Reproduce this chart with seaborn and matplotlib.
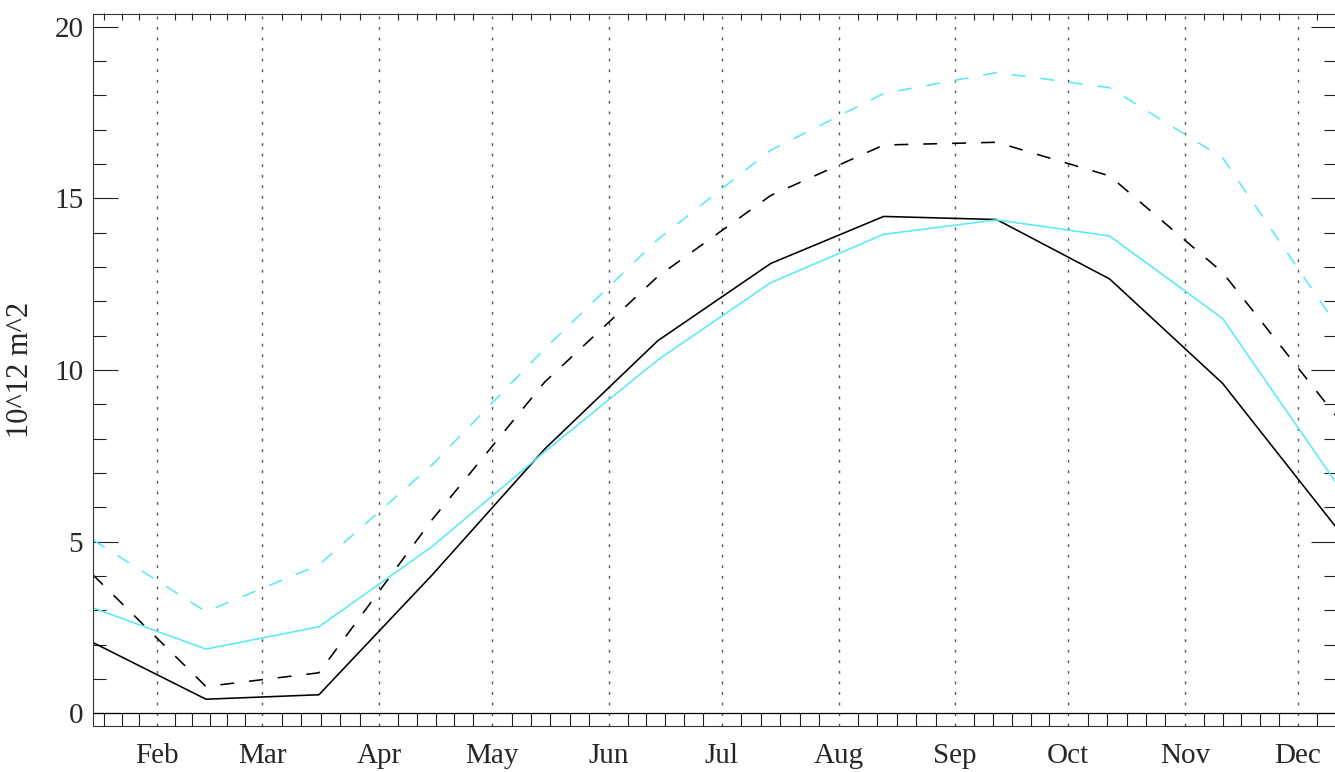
import matplotlib
matplotlib.use("Agg")
import matplotlib.pyplot as plt
import matplotlib.ticker as ticker
import seaborn as sns
import pandas as pd

# data: mid-month points (day of year), values in 10^12 m^2
days = [15, 45, 75, 105, 135, 165, 195, 225, 255, 285, 315, 345]
black_solid = [2.06, 0.41, 0.54, 4.02, 7.70, 10.85, 13.10, 14.47, 14.38, 12.65, 9.61, 5.44]
black_dashed = [4.03, 0.78, 1.18, 5.63, 9.65, 12.72, 15.08, 16.55, 16.63, 15.65, 12.84, 8.68]
cyan_solid = [3.07, 1.87, 2.52, 4.85, 7.62, 10.29, 12.54, 13.95, 14.37, 13.90, 11.50, 6.74]
cyan_dashed = [5.05, 2.96, 4.32, 7.23, 10.62, 13.80, 16.40, 18.05, 18.66, 18.22, 16.18, 11.35]

month_labels = ["Feb", "Mar", "Apr", "May", "Jun", "Jul", "Aug", "Sep", "Oct", "Nov", "Dec"]
month_starts = [32, 60, 91, 121, 152, 182, 213, 244, 274, 305, 335]

df = pd.DataFrame({
    "day": days * 4,
    "val": black_solid + black_dashed + cyan_solid + cyan_dashed,
    "series": ["bs"] * 12 + ["bd"] * 12 + ["cs"] * 12 + ["cd"] * 12,
})

sns.set_style("ticks")
plt.rcParams["font.family"] = ["Liberation Serif", "DejaVu Serif"]
plt.rcParams["lines.scale_dashes"] = False

cyan = "#5ae9f7"
fig = plt.figure(figsize=(13.35, 7.72), dpi=100)
ax = fig.add_axes([93 / 1335, 46 / 772, 1242.5 / 1335, 712.5 / 772])

dash = (0, (10, 10.8))
styles = {"bs": ("black", "-"), "bd": ("black", dash),
          "cs": (cyan, "-"), "cd": (cyan, dash)}
for key, (col, ls) in styles.items():
    sns.lineplot(data=df[df.series == key], x="day", y="val", color=col,
                 linestyle=ls, lw=1.15, ax=ax, legend=False)

ax.axhline(0, color="black", lw=0.9)

ax.set_xlim(15, 345)
ax.set_ylim(-0.37, 20.38)

# month ticks, minor ticks split each month in six
mlen = [28, 31, 30, 31, 30, 31, 31, 30, 31, 30]
minors = [32 - k * 28 / 6 for k in range(1, 4)]
for s, n in zip(month_starts[:-1], mlen):
    minors += [s + k * n / 6 for k in range(1, 6)]
minors += [335 + k * 5 for k in range(1, 3)]
ax.set_xticks(month_starts)
ax.set_xticklabels(month_labels)
ax.xaxis.set_minor_locator(ticker.FixedLocator(minors))
ax.tick_params(axis="x", which="major", length=0, pad=12, labelsize=21)
ax.tick_params(axis="x", which="minor", direction="in", length=9.4, width=0.8,
               color="#222", bottom=True, top=False)
top = ax.secondary_xaxis("top")
top.set_xticks(month_starts)
top.xaxis.set_minor_locator(ticker.FixedLocator(minors))
top.tick_params(which="major", length=0, labeltop=False)
top.tick_params(which="minor", direction="in", length=5, width=0.8, color="#222")
top.set_xticklabels([])

ax.yaxis.set_major_locator(ticker.MultipleLocator(5))
ax.yaxis.set_minor_locator(ticker.MultipleLocator(1))
ax.tick_params(axis="y", which="major", direction="in", length=18, width=0.8,
               color="#222", left=True, right=True, pad=7, labelsize=21)
ax.tick_params(axis="y", which="minor", direction="in", length=9, width=0.8,
               color="#222", left=True, right=True)

ax.grid(axis="x", which="major", linestyle=(0, (2, 5.6)), color="#555", lw=1.0)
ax.grid(axis="y", visible=False)

for sp in ax.spines.values():
    sp.set_color("#333")
    sp.set_linewidth(0.8)
for sp in top.spines.values():
    sp.set_visible(False)

ax.set_xlabel("")
ax.set_ylabel("10^12 m^2", fontsize=22)
ax.yaxis.set_label_coords(-0.047, 0.5)

fig.savefig("out.png", dpi=100)
